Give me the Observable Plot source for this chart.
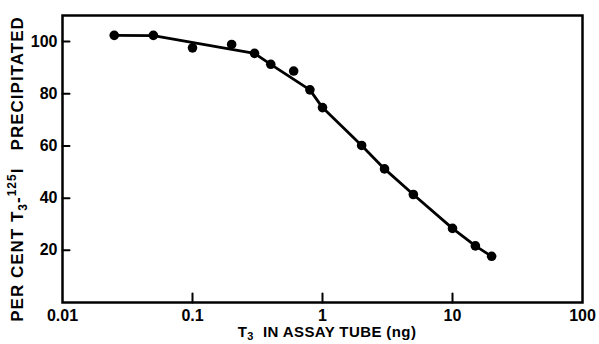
<!DOCTYPE html>
<html>
<head>
<meta charset="utf-8">
<script src="https://cdn.jsdelivr.net/npm/d3@7"></script>
<script src="https://cdn.jsdelivr.net/npm/@observablehq/plot@0.6"></script>
<style>
  html, body { margin: 0; padding: 0; background: #fff; }
  svg { display: block; }
</style>
</head>
<body>
<div id="chart"></div>
<script>
// Measured points: T3 in assay tube (ng) vs per cent T3-125I precipitated
const doseNg = [0.025, 0.05, 0.1, 0.2, 0.3, 0.4, 0.6, 0.8, 1, 2, 3, 5, 10, 15, 20];
const pctPrecip = [102.4, 102.4, 97.6, 98.9, 95.5, 91.3, 88.7, 81.5, 74.7, 60.2, 51.2, 41.4, 28.4, 21.7, 17.7];

// Hand-drawn fitted curve
const curveDose = [0.025, 0.05, 0.3, 0.4, 0.8, 1, 2, 3, 5, 10, 15, 20];
const curvePct = [102.4, 102.3, 95.5, 91.3, 81.5, 74.7, 60.2, 51.2, 41.4, 28.4, 21.7, 17.7];

// Axis ticks
const xTickValues = [0.01, 0.1, 1, 10, 100];
const xTickLabels = ["0.01", "0.1", "1", "10", "100"];
const xTickMarks = [0.1, 1, 10];
const yTickValues = [20, 40, 60, 80, 100];

const points = doseNg.map((d, i) => ({dose: d, pct: pctPrecip[i]}));
const curve = curveDose.map((d, i) => ({dose: d, pct: curvePct[i]}));

const tickShape = {
  draw(context, l) { context.moveTo(0, 0); context.lineTo(0, -l); }
};

const svg = Plot.plot({
  width: 599,
  height: 344,
  marginLeft: 62,
  marginRight: 17,
  marginTop: 15,
  marginBottom: 42,
  style: {
    fontFamily: "'Liberation Sans', Arial, sans-serif",
    fontWeight: "bold",
    fontSize: "16px",
    color: "#000",
    background: "#fff"
  },
  x: {type: "log", domain: [0.01, 100]},
  y: {domain: [0, 110]},
  marks: [
    Plot.frame({stroke: "#000", strokeWidth: 2.5}),
    Plot.axisX(xTickValues, {
      tickSize: 0, tickPadding: 7,
      tickFormat: (d) => xTickLabels[xTickValues.indexOf(d)],
      label: null
    }),
    Plot.axisY(yTickValues, {tickSize: 0, tickPadding: 5, label: null}),
    Plot.vector(xTickMarks, {
      x: d => d, frameAnchor: "bottom", length: 9, rotate: 0,
      anchor: "start", shape: tickShape, stroke: "#000", strokeWidth: 2
    }),
    Plot.vector(yTickValues, {
      y: d => d, frameAnchor: "left", length: 7, rotate: 90,
      anchor: "start", shape: tickShape, stroke: "#000", strokeWidth: 2
    }),
    Plot.line(curve, {x: "dose", y: "pct", stroke: "#000", strokeWidth: 2.8}),
    Plot.dot(points, {x: "dose", y: "pct", r: 4.8, fill: "#000", stroke: "none"})
  ]
});

const s = d3.select(svg);
// X axis title with subscript
const xt = s.append("text")
  .attr("x", 327).attr("y", 337)
  .attr("text-anchor", "middle")
  .attr("font-size", 15).attr("font-weight", "bold")
  .attr("letter-spacing", 0.4)
  .attr("fill", "#000");
xt.append("tspan").text("T");
xt.append("tspan").attr("font-size", 11).attr("dy", 3).text("3");
xt.append("tspan").attr("dy", -3).text("\u00A0 IN ASSAY TUBE (ng)");

// Y axis title with sub/superscripts
const yt = s.append("text")
  .attr("transform", "translate(23,169) rotate(-90)")
  .attr("text-anchor", "middle")
  .attr("font-size", 17).attr("font-weight", "bold")
  .attr("letter-spacing", 1)
  .attr("fill", "#000");
yt.append("tspan").text("PER CENT T");
yt.append("tspan").attr("font-size", 12).attr("dy", 4).text("3");
yt.append("tspan").attr("dy", -4).text("-");
yt.append("tspan").attr("font-size", 12).attr("dy", -7).text("125");
yt.append("tspan").attr("dy", 7).text("I\u00A0\u00A0 PRECIPITATED");

document.getElementById("chart").appendChild(svg);
</script>
</body>
</html>
